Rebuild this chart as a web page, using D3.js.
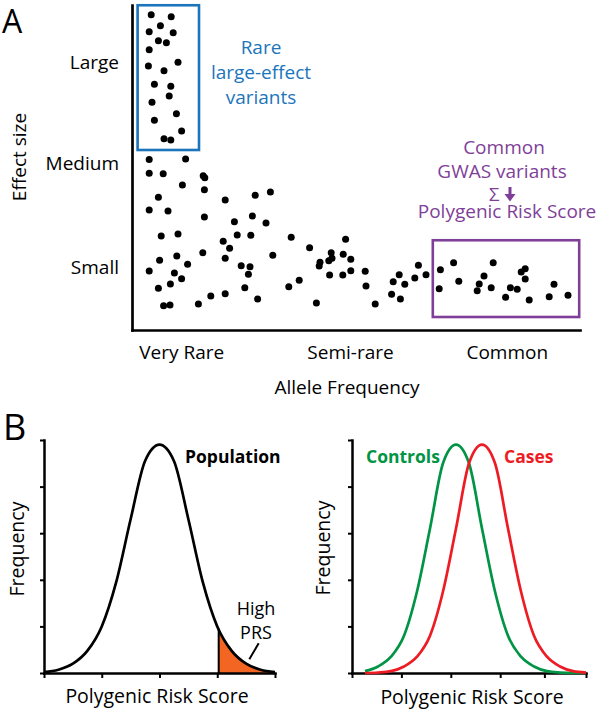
<!DOCTYPE html>
<html>
<head>
<meta charset="utf-8">
<script src="https://cdn.jsdelivr.net/npm/d3@7"></script>
<style>
  body { margin: 0; background: #fff; }
  svg { font-family: "Open Sans", sans-serif; }
</style>
</head>
<body>
<svg id="fig"></svg>
<script>
// ---- panel A: variants (allele frequency rank vs effect size) ----
const variantFreq = [
  4.8, 9.8, 7.1, 4.3, 10.3, 6.6, 8.6, 4.3, 11.5, 4.1, 8.0, 5.6, 9.7, 9.3, 5.0, 11.1, 5.6, 12.4, 8.0, 9.7,
  4.3, 13.4, 4.3, 7.8, 17.8, 18.2, 12.6, 18.1, 6.6, 23.3, 30.8, 34.6, 4.3, 9.0, 18.1, 25.6, 30.1, 33.5,
  7.3, 11.5, 26.3, 29.7, 39.8, 53.4, 22.8, 24.4, 44.4, 17.7, 49.8, 52.8, 35.2, 6.9, 11.2, 23.3, 50.0,
  49.2, 54.7, 47.0, 46.8, 13.9, 27.3, 29.5, 4.3, 10.6, 29.1, 49.4, 52.7, 54.7, 58.3, 12.4, 9.6, 6.6,
  28.2, 39.2, 41.8, 58.5, 19.7, 23.3, 31.4, 7.9, 9.5, 16.6, 46.1, 60.8,
  65.3, 66.8, 68.2, 64.9, 67.1, 70.7, 71.6, 73.5, 77.1, 80.4, 76.8, 81.7, 90.3, 88.0, 86.8, 86.3, 89.8,
  94.6, 96.3, 93.4, 98.3, 97.3, 98.3, 99.3, 105.5, 104.3, 109.0
];
const variantEffect = [
  126.1, 125.3, 121.7, 119.3, 118.9, 115.7, 114.9, 112.1, 107.1, 105.6, 103.7, 98.3, 97.5, 93.6, 91.1, 86.5, 83.9, 79.6, 76.5, 76.0,
  68.2, 68.4, 62.7, 62.5, 61.7, 60.9, 58.0, 56.1, 53.1, 52.0, 53.9, 55.2, 48.0, 47.6, 45.2, 43.3, 45.6, 42.8,
  37.6, 38.4, 38.0, 37.9, 37.1, 36.3, 35.5, 32.7, 32.9, 30.9, 30.9, 30.3, 29.9, 27.9, 29.6, 28.7, 28.7,
  27.7, 28.3, 27.1, 25.6, 26.3, 25.7, 25.3, 23.6, 22.8, 22.3, 22.0, 22.0, 23.7, 23.5, 20.5, 18.4, 16.7,
  16.9, 17.3, 19.9, 17.6, 13.6, 14.5, 12.4, 9.7, 10.0, 10.4, 10.8, 10.4,
  19.3, 22.1, 18.3, 14.3, 12.4, 20.8, 25.9, 22.1, 24.1, 26.9, 16.5, 19.5, 26.9, 21.6, 18.4, 15.7, 16.9,
  16.9, 16.3, 13.1, 24.5, 23.2, 20.4, 12.0, 18.3, 13.3, 13.9
];
const effectLabels = ["Small", "Medium", "Large"];
const effectTicks = [25.2, 66.8, 107.1];
const freqLabels = ["Very Rare", "Semi-rare", "Common"];
const freqTicks = [12.3, 54.5, 93.7];
// [freq0, freq1, effect0, effect1]
const rareBox = [1.4, 16.75, 72, 129.9];
const commonBox = [75.2, 111.8, 5.2, 35.9];

// ---- panel B: PRS distributions ----
const prsGrid = [-4, -3.5, -3, -2.5, -2, -1.5, -1, -0.5, 0, 0.5, 1, 1.5, 2, 2.5, 3, 3.5, 4];
const populationFreq = [0.004, 0.014, 0.04, 0.095, 0.2, 0.39, 0.66, 0.91, 0.98, 0.91, 0.66, 0.39, 0.2, 0.095, 0.04, 0.014, 0.004];
const prsTicks = [-4, -2, 0, 2, 4];
const highPrsCut = 2.05;
const highPrsCutFreq = 0.19;

const ccGrid = [0.5, 1, 1.5, 2, 2.5, 3, 3.5, 4, 4.5, 5, 5.5, 6, 6.5, 7, 7.5, 8, 8.5, 9];
const controlsFreq = [0.008, 0.028, 0.07, 0.16, 0.35, 0.62, 0.90, 0.98, 0.90, 0.62, 0.35, 0.16, 0.07, 0.028, 0.008, 0.002, 0, 0];
const casesFreq = [0, 0.002, 0.008, 0.028, 0.07, 0.16, 0.35, 0.62, 0.90, 0.98, 0.90, 0.62, 0.35, 0.16, 0.07, 0.028, 0.008, 0.002];
const ccTicks = [0, 1.9, 3.8, 5.7, 7.4, 9];
const freqAxisTicks = [0, 0.2, 0.4, 0.6, 0.8, 1.0];

const blue = "#1c75bc", purple = "#7f3f98", green = "#009444", red = "#ed1c24", orange = "#f26522";

const svg = d3.select("#fig").attr("width", 600).attr("height", 711);

function styleAxis(g, w) {
  g.attr("font-family", null).attr("font-size", 19);
  g.select(".domain").attr("stroke", "#000").attr("stroke-width", w).attr("stroke-linecap", "square");
  g.selectAll(".tick line").attr("stroke", "#000").attr("stroke-width", 2);
  g.selectAll(".tick text").attr("fill", "#000");
}

// ===== Panel A =====
const xA = d3.scaleLinear().domain([0, 112]).range([132, 580]);
const yA = d3.scaleLinear().domain([0, 130]).range([330, 5]);

svg.append("g")
  .attr("transform", "translate(0,330)")
  .call(d3.axisBottom(xA).tickValues(freqTicks).tickFormat((d, i) => freqLabels[i]).tickSize(0).tickSizeOuter(0).tickPadding(16))
  .call(g => styleAxis(g, 2.7));

svg.append("g")
  .attr("transform", "translate(132,0)")
  .call(d3.axisLeft(yA).tickValues(effectTicks).tickFormat((d, i) => effectLabels[i]).tickSize(0).tickSizeOuter(0).tickPadding(13))
  .call(g => styleAxis(g, 2.7));

svg.append("g").selectAll("circle")
  .data(variantFreq)
  .join("circle")
  .attr("cx", d => xA(d))
  .attr("cy", (d, i) => yA(variantEffect[i]))
  .attr("r", 3.5)
  .attr("fill", "#000");

// highlight boxes
svg.append("rect")
  .attr("x", xA(rareBox[0])).attr("y", yA(rareBox[3]))
  .attr("width", xA(rareBox[1]) - xA(rareBox[0])).attr("height", yA(rareBox[2]) - yA(rareBox[3]))
  .attr("fill", "none").attr("stroke", blue).attr("stroke-width", 2.6);
svg.append("rect")
  .attr("x", xA(commonBox[0])).attr("y", yA(commonBox[3]))
  .attr("width", xA(commonBox[1]) - xA(commonBox[0])).attr("height", yA(commonBox[2]) - yA(commonBox[3]))
  .attr("fill", "none").attr("stroke", purple).attr("stroke-width", 2.6);

svg.append("text").attr("x", 2).attr("y", 33).attr("font-size", 32).text("A");

svg.append("text")
  .attr("transform", "translate(26,157) rotate(-90)")
  .attr("text-anchor", "middle").attr("font-size", 19).text("Effect size");
svg.append("text")
  .attr("x", 347).attr("y", 394)
  .attr("text-anchor", "middle").attr("font-size", 19).text("Allele Frequency");

// annotations
const rareLines = ["Rare", "large-effect", "variants"];
svg.append("g").selectAll("text")
  .data(rareLines).join("text")
  .attr("x", 261).attr("y", (d, i) => 53.5 + i * 25.3)
  .attr("text-anchor", "middle").attr("font-size", 19).attr("fill", blue)
  .text(d => d);

svg.append("text").attr("x", 504).attr("y", 154.3).attr("text-anchor", "middle")
  .attr("font-size", 19).attr("fill", purple).text("Common");
svg.append("text").attr("x", 502).attr("y", 178.3).attr("text-anchor", "middle")
  .attr("font-size", 19).attr("fill", purple).text("GWAS variants");
svg.append("text").attr("x", 489).attr("y", 200.5)
  .attr("font-size", 18.5).attr("fill", purple).text("Σ");
svg.append("line").attr("x1", 510).attr("x2", 510).attr("y1", 187).attr("y2", 195)
  .attr("stroke", purple).attr("stroke-width", 3);
svg.append("path").attr("d", "M504.5,194L515.5,194L510,201.5Z").attr("fill", purple);
svg.append("text").attr("x", 507).attr("y", 217.5).attr("text-anchor", "middle")
  .attr("font-size", 19).attr("fill", purple).text("Polygenic Risk Score");

// ===== Panel B =====
svg.append("text").attr("x", 3).attr("y", 440).attr("font-size", 36).text("B");

const yB = d3.scaleLinear().domain([0, 1]).range([673, 440]);

// left: population
const xP = d3.scaleLinear().domain([-4, 4]).range([44, 275]);

svg.append("defs").append("clipPath").attr("id", "highClip")
  .append("rect")
  .attr("x", xP(highPrsCut)).attr("y", 430)
  .attr("width", xP(4) - xP(highPrsCut)).attr("height", 250);

const popLine = d3.line()
  .x((d, i) => xP(prsGrid[i])).y(d => yB(d))
  .curve(d3.curveMonotoneX);
const popArea = d3.area()
  .x((d, i) => xP(prsGrid[i])).y0(yB(0)).y1(d => yB(d))
  .curve(d3.curveMonotoneX);

svg.append("path").datum(populationFreq)
  .attr("d", popArea).attr("fill", orange).attr("clip-path", "url(#highClip)");
svg.append("line")
  .attr("x1", xP(highPrsCut)).attr("x2", xP(highPrsCut))
  .attr("y1", yB(0)).attr("y2", yB(highPrsCutFreq))
  .attr("stroke", "#000").attr("stroke-width", 2);

svg.append("g")
  .attr("transform", "translate(0,673)")
  .call(d3.axisBottom(xP).tickValues(prsTicks).tickFormat("").tickSize(5).tickSizeOuter(0))
  .call(g => styleAxis(g, 2.5));
svg.append("g")
  .attr("transform", "translate(44,0)")
  .call(d3.axisLeft(yB).tickValues(freqAxisTicks).tickFormat("").tickSize(4).tickSizeOuter(0))
  .call(g => styleAxis(g, 2.5));

svg.append("path").datum(populationFreq)
  .attr("d", popLine).attr("fill", "none").attr("stroke", "#000").attr("stroke-width", 2.7);

svg.append("text").attr("x", 185).attr("y", 463)
  .attr("font-size", 17.5).attr("font-weight", "bold").text("Population");
svg.append("text").attr("x", 256).attr("y", 615).attr("text-anchor", "middle")
  .attr("font-size", 18).text("High");
svg.append("text").attr("x", 256).attr("y", 638.5).attr("text-anchor", "middle")
  .attr("font-size", 18).text("PRS");
svg.append("line").attr("x1", 258.7).attr("y1", 643.3).attr("x2", 249.3).attr("y2", 659.3)
  .attr("stroke", "#000").attr("stroke-width", 2);

svg.append("text").attr("transform", "translate(24,549) rotate(-90)")
  .attr("text-anchor", "middle").attr("font-size", 19.5).text("Frequency");
svg.append("text").attr("x", 157).attr("y", 703)
  .attr("text-anchor", "middle").attr("font-size", 19.5).text("Polygenic Risk Score");

// right: controls vs cases
const xC = d3.scaleLinear().domain([0, 9]).range([352, 586]);

svg.append("g")
  .attr("transform", "translate(0,673)")
  .call(d3.axisBottom(xC).tickValues(ccTicks).tickFormat("").tickSize(5).tickSizeOuter(0))
  .call(g => styleAxis(g, 2.5));
svg.append("g")
  .attr("transform", "translate(352,0)")
  .call(d3.axisLeft(yB).tickValues(freqAxisTicks).tickFormat("").tickSize(4).tickSizeOuter(0))
  .call(g => styleAxis(g, 2.5));

const ccLine = d3.line()
  .x((d, i) => xC(ccGrid[i])).y(d => yB(d))
  .curve(d3.curveMonotoneX);

svg.append("path").datum(controlsFreq)
  .attr("d", ccLine).attr("fill", "none").attr("stroke", green).attr("stroke-width", 2.7);
svg.append("path").datum(casesFreq)
  .attr("d", ccLine).attr("fill", "none").attr("stroke", red).attr("stroke-width", 2.7);

svg.append("text").attr("x", 366).attr("y", 463)
  .attr("font-size", 17.5).attr("font-weight", "bold").attr("fill", green).text("Controls");
svg.append("text").attr("x", 504).attr("y", 463)
  .attr("font-size", 17.5).attr("font-weight", "bold").attr("fill", red).text("Cases");

svg.append("text").attr("transform", "translate(330,548) rotate(-90)")
  .attr("text-anchor", "middle").attr("font-size", 19.5).text("Frequency");
svg.append("text").attr("x", 472).attr("y", 704)
  .attr("text-anchor", "middle").attr("font-size", 19.5).text("Polygenic Risk Score");
</script>
</body>
</html>
